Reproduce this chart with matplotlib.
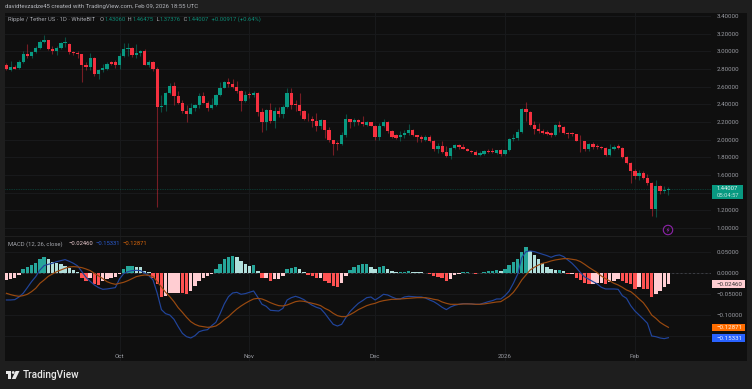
import numpy as np
import matplotlib
matplotlib.use('Agg')
import matplotlib.pyplot as plt
from matplotlib.patches import Rectangle, Polygon, Circle

# daily candles, 2025-09-04 .. 2026-02-09
opens = [2.85,2.79,2.82,2.81,2.88,2.97,2.95,2.99,3.04,3.11,3.13,3.03,3.00,3.04,3.09,3.08,2.99,2.98,2.97,2.85,
         2.82,2.93,2.74,2.79,2.80,2.88,2.88,2.85,2.95,3.03,3.04,2.96,2.98,3.00,2.85,2.88,2.80,2.37,2.39,2.53,
         2.61,2.50,2.41,2.33,2.29,2.36,2.39,2.49,2.42,2.36,2.39,2.51,2.59,2.65,2.63,2.60,2.55,2.44,2.52,2.51,
         2.53,2.31,2.20,2.34,2.21,2.32,2.29,2.37,2.53,2.40,2.39,2.33,2.24,2.23,2.21,2.16,2.22,2.11,2.00,1.96,
         1.95,2.05,2.23,2.20,2.22,2.20,2.17,2.20,2.16,2.03,2.16,2.20,2.10,2.05,2.03,2.05,2.08,2.11,2.05,2.03,
         2.00,2.03,1.98,1.89,1.93,1.86,1.81,1.91,1.94,1.92,1.90,1.87,1.86,1.83,1.84,1.87,1.87,1.85,1.88,1.84,
         1.88,2.01,2.02,2.09,2.35,2.31,2.17,2.12,2.10,2.09,2.08,2.05,2.17,2.14,2.08,2.08,2.06,1.99,1.98,1.89,
         1.95,1.93,1.92,1.91,1.83,1.90,1.93,1.91,1.80,1.74,1.65,1.59,1.62,1.57,1.51,1.21,1.47,1.42,1.4306]
highs = [2.87,2.89,2.85,2.90,3.00,3.08,2.99,3.06,3.13,3.19,3.13,3.06,3.06,3.11,3.16,3.10,3.00,3.00,2.97,2.88,
         2.98,2.94,2.80,2.86,2.88,2.89,2.90,2.98,3.10,3.10,3.05,3.08,3.02,3.03,2.90,2.89,2.82,2.51,2.54,2.64,
         2.65,2.55,2.45,2.39,2.41,2.40,2.53,2.54,2.44,2.47,2.52,2.65,2.67,2.70,2.69,2.66,2.56,2.55,2.54,2.55,
         2.54,2.36,2.35,2.42,2.37,2.37,2.39,2.59,2.58,2.45,2.53,2.34,2.30,2.27,2.30,2.23,2.22,2.14,2.00,1.98,
         2.09,2.29,2.24,2.25,2.23,2.27,2.21,2.20,2.17,2.19,2.23,2.21,2.11,2.06,2.10,2.11,2.18,2.12,2.05,2.05,
         2.05,2.05,2.00,1.96,1.98,1.93,1.92,1.95,1.95,1.95,1.91,1.88,1.88,1.87,1.88,1.89,1.91,1.88,1.89,1.88,
         2.02,2.07,2.12,2.36,2.43,2.32,2.21,2.19,2.12,2.11,2.09,2.18,2.21,2.15,2.09,2.09,2.07,2.05,1.99,1.96,
         1.97,1.95,1.93,1.92,1.95,1.94,1.95,1.92,1.81,1.75,1.67,1.66,1.64,1.61,1.52,1.54,1.49,1.47,1.46475]
lows = [2.79,2.78,2.80,2.80,2.87,2.93,2.93,2.98,3.03,3.09,3.02,2.97,2.96,3.03,3.05,2.97,2.96,2.93,2.65,2.79,
        2.79,2.72,2.69,2.77,2.79,2.85,2.81,2.80,2.94,2.95,2.94,2.93,2.95,2.85,2.82,2.78,1.24,2.31,2.32,2.52,
        2.39,2.40,2.30,2.20,2.29,2.32,2.36,2.41,2.33,2.35,2.38,2.50,2.59,2.60,2.58,2.53,2.33,2.43,2.47,2.48,
        2.27,2.09,2.11,2.19,2.13,2.26,2.25,2.36,2.35,2.32,2.28,2.22,2.21,2.14,2.10,2.12,2.02,1.97,1.83,1.88,
        1.94,2.03,2.13,2.15,2.17,2.15,2.16,2.15,2.00,2.00,2.14,2.08,2.02,2.01,1.99,2.02,2.05,2.04,1.97,1.97,
        1.98,1.97,1.87,1.85,1.85,1.80,1.78,1.89,1.90,1.89,1.87,1.85,1.83,1.82,1.83,1.85,1.85,1.84,1.81,1.83,
        1.87,1.99,2.00,2.08,2.21,2.16,2.07,2.08,2.07,2.05,2.03,2.04,2.09,2.06,2.02,2.04,1.98,1.86,1.87,1.87,
        1.90,1.89,1.90,1.81,1.82,1.88,1.90,1.79,1.73,1.51,1.56,1.54,1.56,1.49,1.14,1.12,1.38,1.40,1.37376]
closes = [2.80,2.82,2.80,2.88,2.97,2.95,2.99,3.04,3.11,3.13,3.03,3.00,3.04,3.09,3.11,2.99,2.98,2.97,2.85,2.82,
          2.93,2.74,2.79,2.81,2.86,2.86,2.85,2.95,3.03,3.04,2.96,2.98,3.00,2.85,2.88,2.80,2.37,2.38,2.53,2.61,
          2.50,2.41,2.33,2.29,2.36,2.39,2.49,2.42,2.36,2.39,2.51,2.59,2.65,2.63,2.60,2.55,2.44,2.51,2.51,2.53,
          2.31,2.20,2.34,2.21,2.32,2.29,2.37,2.53,2.39,2.39,2.33,2.24,2.23,2.21,2.16,2.22,2.11,2.00,1.95,1.95,
          2.05,2.23,2.20,2.22,2.20,2.18,2.20,2.16,2.03,2.16,2.20,2.10,2.03,2.02,2.05,2.08,2.11,2.05,2.03,2.01,
          2.03,1.98,1.89,1.93,1.86,1.81,1.91,1.94,1.92,1.90,1.87,1.86,1.83,1.85,1.87,1.86,1.86,1.88,1.84,1.88,
          2.01,2.02,2.09,2.35,2.31,2.17,2.12,2.10,2.08,2.07,2.05,2.17,2.14,2.08,2.07,2.06,1.99,1.98,1.89,1.95,
          1.92,1.92,1.91,1.83,1.90,1.92,1.91,1.80,1.74,1.65,1.59,1.62,1.57,1.51,1.21,1.47,1.42,1.43,1.44007]

hist = [-.016,-.014,-.010,-.003,.010,.014,.020,.024,.034,.038,.034,.026,.024,.022,.018,.012,.007,.002,
        -.011,-.018,-.012,-.026,-.027,-.019,-.014,-.012,-.008,-.002,.010,.018,.018,.016,.014,.006,.002,
        -.010,-.026,-.056,-.053,-.048,-.046,-.046,-.048,-.050,-.042,-.030,-.018,-.010,-.006,-.002,
        .010,.022,.034,.040,.041,.038,.030,.022,.018,.020,.006,-.012,-.012,-.019,-.014,-.013,-.006,
        .011,.013,.014,.010,.003,-.003,-.006,-.011,-.010,-.018,-.024,-.030,-.032,-.022,-.006,
        .007,.016,.019,.021,.023,.014,.011,.014,.018,.011,.006,.002,.002,.004,.006,.004,.003,.002,.001,
        -.002,-.007,-.009,-.010,-.018,-.013,-.004,-.002,.002,.002,.001,-.002,.001,.003,.005,.006,.008,.006,
        .010,.019,.026,.034,.051,.062,.054,.044,.034,.024,.016,.010,.008,.008,.005,-.002,-.002,-.010,-.016,
        -.024,-.025,-.025,-.024,-.024,-.026,-.020,-.018,-.014,-.018,-.022,-.026,-.037,-.032,-.037,-.038,
        -.056,-.049,-.041,-.032,-.0246]
macd = [-.0635,-.0635,-.0627,-.0564,-.0476,-.0341,-.0199,-.0079,.0079,.0183,.0214,.0238,.0278,.0302,.0326,.0286,.0238,.0175,
        .004,-.0095,-.0191,-.0278,-.0341,-.0381,-.0373,-.0357,-.0341,-.0135,-.0008,.004,.0064,.0071,.0064,.0008,-.0056,-.0159,
        -.0476,-.0865,-.0961,-.0993,-.1096,-.127,-.1429,-.1509,-.154,-.1485,-.139,-.1358,-.1342,-.1247,-.1167,-.0961,-.073,-.0556,
        -.0468,-.0453,-.05,-.0484,-.0453,-.0421,-.0572,-.0738,-.0786,-.0881,-.0889,-.0897,-.0834,-.0635,-.058,-.0548,-.058,-.0627,
        -.0699,-.0762,-.081,-.0842,-.0953,-.1088,-.1215,-.1255,-.1215,-.1056,-.0913,-.081,-.0715,-.0651,-.058,-.0564,-.0635,-.0572,
        -.05,-.0516,-.0564,-.0603,-.0611,-.0564,-.0548,-.0556,-.0564,-.0564,-.0588,-.0635,-.0675,-.0738,-.081,-.0865,-.0802,-.0762,
        -.0738,-.0723,-.0723,-.073,-.0738,-.0738,-.0707,-.0675,-.0651,-.0611,-.0611,-.0532,-.0421,-.0238,-.0024,.0373,.0516,.0532,
        .0516,.0484,.0453,.0421,.0381,.0421,.0437,.0397,.0318,.0238,.0135,.0016,-.0087,-.0143,-.0199,-.0254,-.0333,-.0373,-.0373,
        -.0373,-.0381,-.0532,-.0596,-.077,-.0897,-.0993,-.1088,-.1191,-.1493,-.1509,-.154,-.1556,-.1533]
signal = [-.0476,-.0508,-.0532,-.0548,-.0532,-.05,-.0437,-.0357,-.0238,-.0159,-.0071,-.0016,.004,.0079,.0119,.0151,.0159,.0151,
          .0135,.0103,.0064,0,-.0064,-.0127,-.0199,-.0238,-.0262,-.0238,-.0214,-.0175,-.0127,-.0079,-.0056,-.004,-.0048,-.0079,
          -.0199,-.0326,-.0453,-.0556,-.0675,-.0818,-.0929,-.1048,-.1151,-.1215,-.1255,-.127,-.1286,-.1278,-.1255,-.1191,-.1104,-.1032,
          -.0937,-.085,-.0778,-.0715,-.0659,-.0611,-.0596,-.0611,-.0651,-.0699,-.0738,-.077,-.0778,-.0754,-.0715,-.0675,-.0659,-.0667,
          -.0691,-.0715,-.0738,-.077,-.0834,-.0881,-.0953,-.1008,-.1032,-.1032,-.0985,-.0929,-.0865,-.0818,-.077,-.0738,-.0715,-.0675,
          -.0651,-.0635,-.0619,-.0619,-.0611,-.0603,-.0596,-.0588,-.058,-.058,-.058,-.0596,-.0619,-.0635,-.0683,-.0715,-.0738,-.0738,
          -.0738,-.073,-.073,-.073,-.0738,-.0738,-.073,-.0715,-.0699,-.0683,-.0675,-.0611,-.0548,-.0453,-.0318,-.0159,-.004,.0079,
          .0143,.0199,.0238,.0262,.0294,.0318,.0333,.0349,.0349,.0333,.0318,.0278,.0214,.0143,.0079,.0016,-.0064,-.0127,-.0183,
          -.0238,-.0278,-.0333,-.0397,-.0437,-.0516,-.0611,-.0699,-.0834,-.0993,-.1072,-.1167,-.1231,-.1287]

price_ticks = [1.0,1.2,1.4,1.6,1.8,2.0,2.2,2.4,2.6,2.8,3.0,3.2,3.4]
# 1.40000 sits under the last-price tag in the picture
price_tick_labels = ['1.00000','1.20000','','1.60000','1.80000','2.00000','2.20000','2.40000','2.60000','2.80000','3.00000','3.20000','3.40000']
macd_ticks = [.05,0,-.05,-.10,-.15]
macd_tick_labels = ['0.05000','0.00000','\u22120.05000','\u22120.10000','']
month_days = [27,58,88,119,150]
month_labels = ['Oct','Nov','Dec','2026','Feb']

W, H = 752, 389
plt.rcParams['font.family'] = ['Roboto', 'DejaVu Sans']
BG, PANEL, GRID, TXT = '#1e1e1e', '#0f0f0f', '#191a1c', '#9a9ca3'
UP, DOWN = '#089981', '#f5303f'
TICK = 4.4

days = np.arange(len(closes))
opens, highs, lows, closes = map(np.array, (opens, highs, lows, closes))
hist = np.array(hist)

fig = plt.figure(figsize=(W/100, H/100), dpi=100, facecolor=BG)
def px_axes(x0, y0, x1, y1):
    return fig.add_axes([x0/W, 1-y1/H, (x1-x0)/W, (y1-y0)/H])

# whole figure in pixel coordinates, for panels and headings
bg = fig.add_axes([0, 0, 1, 1], zorder=0)
bg.set_xlim(0, W); bg.set_ylim(H, 0); bg.axis('off')
bg.add_patch(Rectangle((5, 12.7), 742, 223, fc=PANEL, ec='none'))
bg.add_patch(Rectangle((5, 236.8), 742, 124.2, fc=PANEL, ec='none'))

xlim = ((5-6.4)/4.19, (711-6.4)/4.19)

ax = px_axes(5, 12.7, 711, 235.7)
ax.patch.set_alpha(0)
ax.set_zorder(1)
ax.set_xlim(xlim)
ax.set_ylim(1+(228-235.7)/88.3, 1+(228-12.7)/88.3)
up = closes >= opens
col = np.where(up, UP, DOWN)
ax.vlines(days, lows, highs, colors=col, lw=0.8, alpha=0.45, zorder=2)
body = np.maximum(np.abs(closes-opens), 0.006)
ax.bar(days, body, bottom=np.minimum(opens, closes), width=0.78, color=col, lw=0, zorder=3)
ax.axhline(closes[-1], color=UP, lw=0.5, ls=(0, (1, 1.5)), alpha=0.6, zorder=1)

ax2 = px_axes(5, 236.8, 711, 361)
ax2.patch.set_alpha(0)
ax2.set_zorder(1)
ax2.set_xlim(xlim)
ax2.set_ylim((273.3-361)/21*0.05, (273.3-236.8)/21*0.05)
prev = np.r_[hist[0], hist[:-1]]
hcol = np.where(hist >= 0, np.where(hist >= prev, '#26a69a', '#b2dfdb'),
                np.where(hist < prev, '#ff5252', '#ffcdd2'))
ax2.bar(days, hist, width=0.82, color=hcol, lw=0, zorder=2)
ax2.plot(days, macd, color='#21459c', lw=0.85, zorder=3)
ax2.plot(days, signal, color='#9a4a10', lw=0.85, zorder=4)
ax2.axhline(0, color='#4a4c52', lw=0.5, ls=(0, (3, 3)), zorder=1)

for a in (ax, ax2):
    for s in a.spines.values():
        s.set_visible(False)
    a.grid(True, color=GRID, lw=0.7)
    a.set_axisbelow(True)
    a.yaxis.tick_right()
    a.tick_params(axis='both', length=0, labelsize=TICK, labelcolor=TXT)
    a.tick_params(axis='y', pad=4.1)
    a.set_xticks(month_days)

ax.set_yticks(price_ticks)
ax.set_yticklabels(price_tick_labels)
ax.tick_params(labelbottom=False)
ax2.set_yticks(macd_ticks)
ax2.set_yticklabels(macd_tick_labels)
ax2.tick_params(labelbottom=False)
for d, lab in zip(month_days, month_labels):
    ax2.annotate(lab, (d, 0), xycoords=ax2.get_xaxis_transform(), xytext=(0, 1.8),
                 textcoords='offset points', ha='center', va='bottom', fontsize=TICK, color=TXT)

# overlay for headings, tags, logo
top = fig.add_axes([0, 0, 1, 1], zorder=5)
top.set_xlim(0, W); top.set_ylim(H, 0); top.axis('off')
top.patch.set_alpha(0)

top.text(5, 6.5, 'davidtevzadze45 created with TradingView.com, Feb 09, 2026 18:55 UTC',
         fontsize=4.3, color='#b4b6bc', va='center')

def run(x, y, parts, size=4.25, gap=0.8):
    r = fig.canvas.get_renderer()
    for s, c in parts:
        t = top.text(x, y, s, fontsize=size, color=c, va='center')
        x += t.get_window_extent(r).width + gap

G = '#0d8a75'
run(8.5, 19.5, [('Ripple / Tether US \u00b7 1D \u00b7 WhiteBIT  ', '#a5a7ad'), ('O', '#a5a7ad'), ('1.43060', G), (' H', '#a5a7ad'),
                ('1.46475', G), (' L', '#a5a7ad'), ('1.37376', G), (' C', '#a5a7ad'), ('1.44007', G), (' +0.00917 (+0.64%)', G)])
run(8.5, 243.7, [('MACD (12, 26, close)  ', '#a5a7ad'), ('\u22120.02460', '#e8c8cc'), ('\u22120.15331', '#2a5bd0'), ('\u22120.12871', '#d8660c')], gap=2.4)

def tag(y0, y1, w, fc, lines, size=TICK):
    top.add_patch(Rectangle((712, y0), w, y1-y0, fc=fc, ec='none'))
    step = (y1-y0)/len(lines)
    for k, (s, c) in enumerate(lines):
        top.text(716.7, y0+step*(k+0.5), s, fontsize=size, color=c, va='center')

tag(184.6, 199.4, 31, '#089981', [('1.44007', '#e8f5f2'), ('05:04:57', '#bfe3dc')], size=4.2)
tag(280.3, 287.8, 33, '#ffcdd2', [('\u22120.02460', '#333333')])
tag(323.6, 331.2, 33, '#ff6d00', [('\u22120.12871', '#fff0e0')])
tag(334.2, 342, 33, '#2962ff', [('\u22120.15331', '#eaf0ff')])

# lightning badge
top.add_patch(Circle((668, 230), 4.7, fc='none', ec='#8e24aa', lw=0.8))
top.add_patch(Polygon([(668.9, 227), (666.4, 230.4), (667.9, 230.4), (667.1, 233), (669.6, 229.6), (668.1, 229.6)],
                      fc='#8e24aa', ec='none'))

# logo
top.add_patch(Polygon([(5.7, 371), (11.2, 371), (11.2, 379), (8, 379), (8, 373.7), (5.7, 373.7)], fc='#e8e8e8', ec='none'))
top.add_patch(Circle((13.2, 372.5), 1.4, fc='#e8e8e8', ec='none'))
top.add_patch(Polygon([(15.6, 371), (19.5, 371), (15.6, 379), (11.8, 379)], fc='#e8e8e8', ec='none'))
top.text(23, 375, 'TradingView', fontsize=7.2, color='#e8e8e8', va='center', fontweight='medium')

fig.savefig('out.png', dpi=100, facecolor=BG)
